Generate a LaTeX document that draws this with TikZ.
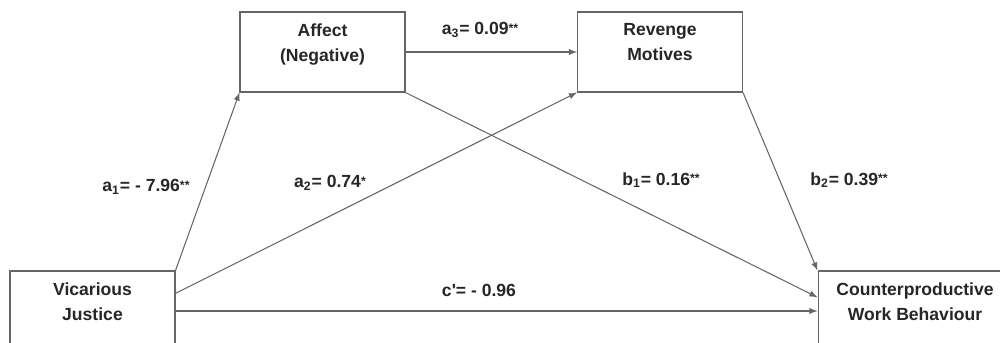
\documentclass[tikz,border=0pt]{standalone}
\usepackage{fontspec}
\setmainfont{Liberation Sans}
\usetikzlibrary{arrows}
\newcommand\starmark[1]{\raisebox{1.5pt}{\scriptsize #1}}

\begin{document}
\begin{tikzpicture}[x=0.02cm,y=-0.02cm,
    varbox/.style={draw=black!60,line width=0.6pt,minimum width=3.3cm,minimum height=1.6cm,inner sep=0pt},
    vartext/.style={anchor=north,align=center,yshift=-3.5pt,text=black!85,font=\bfseries\fontsize{10}{14}\selectfont},
    coef/.style={text=black!85,font=\bfseries\fontsize{10}{12}\selectfont},
    arr/.style={draw=black!60,line width=0.6pt,-latex}]
    \useasboundingbox (0,0) rectangle (1000,342);
    \clip (0,0) rectangle (1000,342);

    \node[varbox] (aff) at (322.5,52) {};
    \node[varbox] (rev) at (660,52) {};
    \node[varbox] (vj) at (92.5,311) {};
    \node[varbox,minimum width=3.88cm] (cwb) at (915,311) {};

    \node[vartext] (afft) at (aff.north) {Affect\\(Negative)};
    \node[vartext] (revt) at (rev.north) {Revenge\\Motives};
    \node[vartext] (vjt) at (vj.north) {Vicarious\\Justice};
    \node[vartext] (cwbt) at (cwb.north) {Counterproductive\\Work Behaviour};

    \draw[arr] (vj.north east) -- (aff.south west);
    \draw[arr] (vj.12) -- (rev.south west);
    \draw[arr] (aff.east) -- (rev.west);
    \draw[arr] (aff.south east) -- (cwb.172);
    \draw[arr] (rev.south east) -- (cwb.north west);
    \draw[arr] (vj.east) -- (cwb.west);

    \node[coef] (la1) at (146,187) {a\textsubscript{1}= - 7.96\starmark{**}};
    \node[coef] (la2) at (330,183) {a\textsubscript{2}= 0.74\starmark{*}};
    \node[coef] (la3) at (480,30) {a\textsubscript{3}= 0.09\starmark{**}};
    \node[coef] (lb1) at (661,180) {b\textsubscript{1}= 0.16\starmark{**}};
    \node[coef] (lb2) at (849,180) {b\textsubscript{2}= 0.39\starmark{**}};
    \node[coef] (lc) at (479,290) {c\textquotesingle= - 0.96};
\end{tikzpicture}
\end{document}
